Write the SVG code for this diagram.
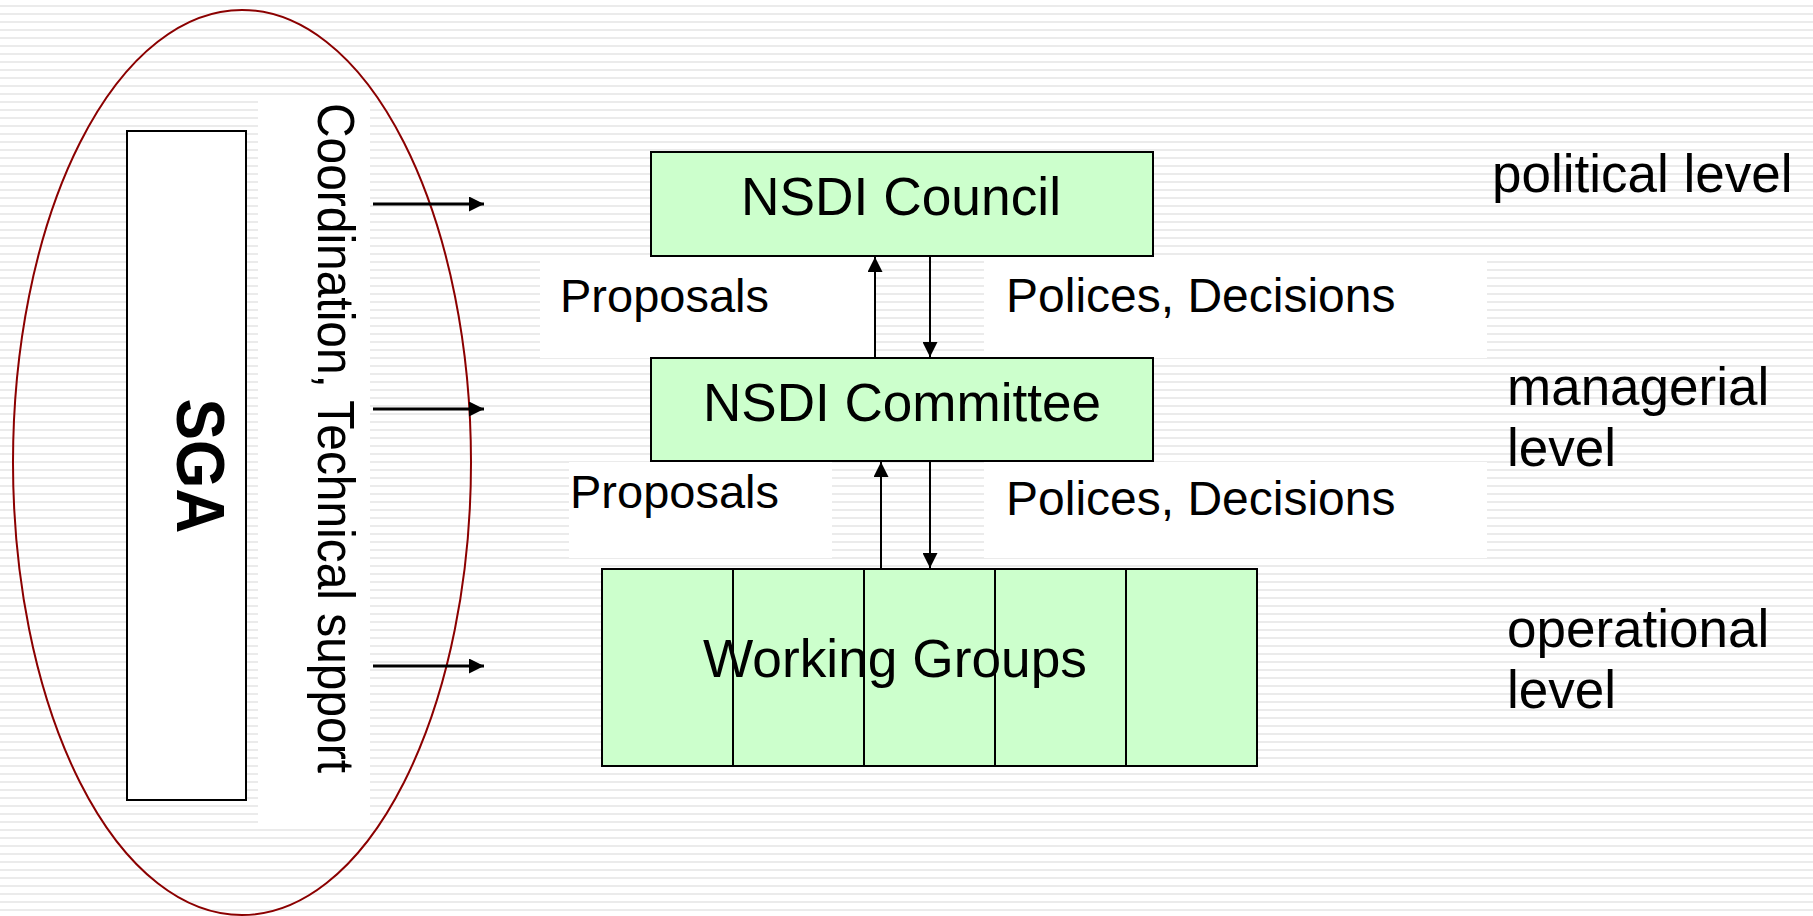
<svg xmlns="http://www.w3.org/2000/svg" width="1813" height="916" viewBox="0 0 1813 916">
<defs>
<pattern id="stripes" x="0" y="0" width="8" height="8" patternUnits="userSpaceOnUse">
<rect x="0" y="0" width="8" height="8" fill="#ffffff"/>
<rect x="0" y="5" width="8" height="2" fill="#ebebeb"/>
</pattern>
<marker id="ah" viewBox="0 0 15 15" refX="15" refY="7.5" markerWidth="15" markerHeight="15" markerUnits="userSpaceOnUse" orient="auto">
<path d="M0,0 L15,7.5 L0,15 z" fill="#000"/>
</marker>
</defs>
<style>
.t{font-family:"Liberation Sans",Arial,sans-serif;fill:#000}
.box{fill:#ccffcc;stroke:#000;stroke-width:2}
.wb{fill:#ffffff}
.c{stroke:#000;fill:none}
</style>
<rect x="0" y="0" width="1813" height="916" fill="url(#stripes)"/>
<g id="backgrounds">
<rect class="wb" x="258" y="100" width="112" height="723"/>
<rect class="wb" x="540" y="257" width="335" height="101"/>
<rect class="wb" x="984" y="257" width="503" height="101"/>
<rect class="wb" x="569" y="462" width="263" height="96"/>
<rect class="wb" x="984" y="462" width="503" height="96"/>
</g>
<g id="sga-ellipse">
<ellipse cx="242" cy="462.5" rx="229" ry="452.5" fill="none" stroke="#8b0000" stroke-width="2"/>
</g>
<g id="sga">
<rect x="127" y="131" width="119" height="669" fill="#fff" stroke="#000" stroke-width="2"/>
<text class="t" transform="translate(177,466) rotate(90)" text-anchor="middle" font-size="68" font-weight="bold" textLength="135" lengthAdjust="spacingAndGlyphs">SGA</text>
</g>
<g id="coordination-label">
<text class="t" transform="translate(318,103) rotate(90)" font-size="52" textLength="670" lengthAdjust="spacingAndGlyphs">Coordination, Technical support</text>
</g>
<g id="council">
<rect class="box" x="651" y="152" width="502" height="104"/>
<text class="t" x="901" y="215" font-size="53" text-anchor="middle" textLength="320" lengthAdjust="spacingAndGlyphs">NSDI Council</text>
</g>
<g id="committee">
<rect class="box" x="651" y="358" width="502" height="103"/>
<text class="t" x="902" y="421" font-size="53" text-anchor="middle" textLength="398" lengthAdjust="spacingAndGlyphs">NSDI Committee</text>
</g>
<g id="working-groups">
<rect class="box" x="602" y="569" width="131" height="197"/>
<rect class="box" x="733" y="569" width="131" height="197"/>
<rect class="box" x="864" y="569" width="131" height="197"/>
<rect class="box" x="995" y="569" width="131" height="197"/>
<rect class="box" x="1126" y="569" width="131" height="197"/>
<text class="t" x="895" y="677" font-size="53" text-anchor="middle" textLength="384" lengthAdjust="spacingAndGlyphs">Working Groups</text>
</g>
<g id="labels">
<text class="t" x="560" y="312" font-size="47">Proposals</text>
<text class="t" x="1006" y="312" font-size="48">Polices, Decisions</text>
<text class="t" x="570" y="508" font-size="47">Proposals</text>
<text class="t" x="1006" y="515" font-size="48">Polices, Decisions</text>
<text class="t" x="1492" y="192" font-size="53">political level</text>
<text class="t" x="1507" y="405" font-size="53">managerial</text>
<text class="t" x="1507" y="466" font-size="53">level</text>
<text class="t" x="1507" y="647" font-size="53">operational</text>
<text class="t" x="1507" y="708" font-size="53">level</text>
</g>
<g id="connectors">
<line class="c" x1="373" y1="204" x2="484" y2="204" stroke-width="3" marker-end="url(#ah)"/>
<line class="c" x1="373" y1="409" x2="484" y2="409" stroke-width="3" marker-end="url(#ah)"/>
<line class="c" x1="373" y1="666" x2="484" y2="666" stroke-width="3" marker-end="url(#ah)"/>
<line class="c" x1="875" y1="358" x2="875" y2="257" stroke-width="2" marker-end="url(#ah)"/>
<line class="c" x1="930" y1="256" x2="930" y2="357" stroke-width="2" marker-end="url(#ah)"/>
<line class="c" x1="881" y1="569" x2="881" y2="462" stroke-width="2" marker-end="url(#ah)"/>
<line class="c" x1="930" y1="461" x2="930" y2="568" stroke-width="2" marker-end="url(#ah)"/>
</g>
</svg>
